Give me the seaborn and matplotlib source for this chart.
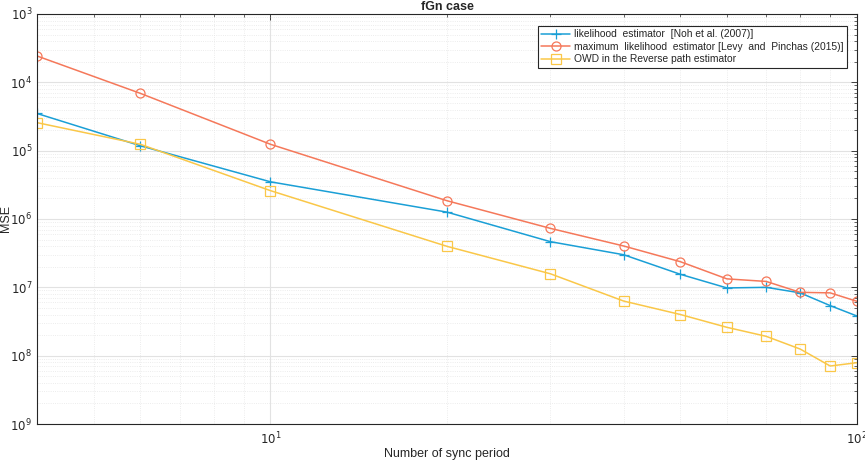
import numpy as np
import pandas as pd
import matplotlib
matplotlib.use("Agg")
import matplotlib.pyplot as plt
import matplotlib.ticker as mticker
import seaborn as sns

sns.set_theme(style="whitegrid")
plt.rcParams["font.family"] = ["Liberation Sans", "DejaVu Sans"]

sync_period = [4, 6, 10, 20, 30, 40, 50, 60, 70, 80, 90, 100]
mse_noh = [3.5e-5, 1.18e-5, 3.5e-6, 1.26e-6, 4.66e-7, 3.0e-7, 1.55e-7,
           9.8e-8, 1.0e-7, 8.3e-8, 5.4e-8, 3.8e-8]
mse_levy = [2.43e-4, 6.9e-5, 1.24e-5, 1.85e-6, 7.3e-7, 4.03e-7, 2.37e-7,
            1.33e-7, 1.22e-7, 8.45e-8, 8.3e-8, 6.24e-8]
mse_owd = [2.57e-5, 1.24e-5, 2.6e-6, 3.98e-7, 1.58e-7, 6.3e-8, 4.0e-8,
           2.6e-8, 1.92e-8, 1.25e-8, 7.06e-9, 7.9e-9]

labels = [
    "likelihood  estimator  [Noh et al. (2007)]",
    "maximum  likelihood  estimator [Levy  and  Pinchas (2015)]",
    "OWD in the Reverse path estimator",
]
colors = ["#1A9FD6", "#F5785A", "#FAC748"]
markers = ["+", "o", "s"]

df = pd.DataFrame({"x": sync_period * 3,
                   "mse": mse_noh + mse_levy + mse_owd,
                   "est": [labels[0]] * 12 + [labels[1]] * 12 + [labels[2]] * 12})

fig = plt.figure(figsize=(8.65, 4.63), dpi=100)
ax = fig.add_axes([0.0428, 0.0842, 0.948, 0.8856])

for lab, col, mk in zip(labels, colors, markers):
    sub = df[df["est"] == lab]
    sns.lineplot(data=sub, x="x", y="mse", ax=ax, color=col, marker=mk,
                 markersize=6.5 if mk != "+" else 7,
                 markerfacecolor="none", markeredgecolor=col,
                 markeredgewidth=0.9, linewidth=1.1, label=lab)

ax.set_xscale("log")
ax.set_yscale("log")
ax.set_xlim(4, 100)
ax.set_ylim(1e-9, 1e-3)

ax.yaxis.set_major_locator(mticker.LogLocator(base=10, numticks=10))
ax.yaxis.set_minor_locator(mticker.LogLocator(base=10, subs=np.arange(2, 10), numticks=20))
ax.xaxis.set_major_locator(mticker.LogLocator(base=10, numticks=10))
ax.xaxis.set_minor_locator(mticker.LogLocator(base=10, subs=np.arange(2, 10), numticks=20))
ax.yaxis.set_major_formatter(mticker.FuncFormatter(
    lambda v, p: f"$10^{{{int(round(abs(np.log10(v))))}}}$"))
ax.xaxis.set_major_formatter(mticker.FuncFormatter(
    lambda v, p: f"$10^{{{int(round(np.log10(v)))}}}$"))
ax.xaxis.set_minor_formatter(mticker.NullFormatter())

ax.grid(True, which="major", color="#e2e2e2", linewidth=0.8, linestyle="-")
ax.grid(True, which="minor", color="#e6e6e6", linewidth=0.6, linestyle=":")
ax.set_facecolor("white")
for s in ax.spines.values():
    s.set_color("#262626")
    s.set_linewidth(0.8)

ax.tick_params(which="both", direction="in", top=True, right=True,
               colors="#262626", labelsize=8.5)
ax.tick_params(which="major", length=4, width=0.6)
ax.tick_params(which="minor", length=2, width=0.5)
ax.tick_params(axis="x", pad=5)

ax.set_xlabel("Number of sync period", fontsize=9, labelpad=0)
ax.set_ylabel("MSE", fontsize=9)
ax.yaxis.set_label_coords(-0.031, 0.5)
ax.set_title("fGn case", fontsize=9, fontweight="bold", pad=3)

leg = ax.legend(loc="upper right", bbox_to_anchor=(0.9945, 0.984), fontsize=7.4,
                frameon=True, fancybox=False, framealpha=1,
                edgecolor="#262626", handlelength=2.8, borderpad=0.35,
                labelspacing=0.25, handletextpad=0.4)
leg.get_frame().set_linewidth(0.8)

fig.savefig("out.png", dpi=100)
